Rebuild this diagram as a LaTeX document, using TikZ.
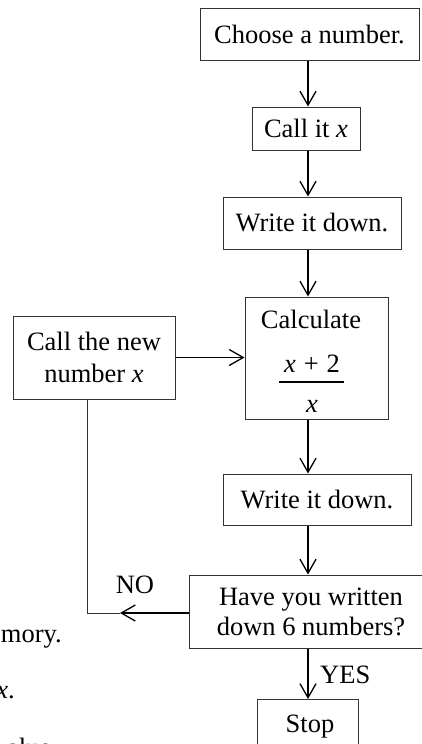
\documentclass[tikz,border=0pt]{standalone}
\usepackage{fontspec}
\setmainfont{Liberation Serif}
\usetikzlibrary{arrows.meta}
\begin{document}
\begin{tikzpicture}[x=1pt,y=-1pt,
  txt/.style={font=\fontsize{26.5}{30}\selectfont, inner sep=0pt},
  box/.style={txt, draw=black!80, line width=1pt, align=center},
  flow/.style={-{Straight Barb[length=14pt,width=16pt,line width=1.3pt]}, line width=1.2pt, black},
  thinline/.style={draw=black!80, line width=1pt}]
\useasboundingbox (0,0) rectangle (422,744);
\clip (0,0) rectangle (422,744);
% boxes
\node[box, minimum width=219pt, minimum height=52pt] (b1) at (309.5,34) {Choose a number.};
\node[box, minimum width=108pt, minimum height=43pt] (b2) at (306,128.5) {Call it \textit{x}};
\node[box, minimum width=178pt, minimum height=52pt] (b3) at (312,223) {Write it down.};
\node[box, minimum width=143pt, minimum height=122pt] (b4) at (316.5,358) {};
\node[txt, anchor=base] (calc) at (311,328) {Calculate};
\node[txt, anchor=base] (num) at (312,372) {\textit{x}\hspace{0.3em}+\hspace{0.3em}2};
\node[txt, anchor=base] (den) at (312,412) {\textit{x}};
\draw[line width=1.1pt] (279,382) -- (344,382);
\node[box, minimum width=162pt, minimum height=83pt] (b5) at (94,357.5) {Call the new\\[2pt]number \textit{x}};
\node[box, minimum width=188pt, minimum height=51pt] (b6) at (317,499.5) {Write it down.};
\node[box, minimum width=244pt, minimum height=73pt] (b7) at (311,611.5) {Have you written\\down 6 numbers?};
\node[box, anchor=north, minimum width=101pt, text height=33pt, text depth=50pt] (b8) at (307.5,699) {\hspace*{5pt}Stop};
% labels
\node[txt, anchor=base] (no) at (135,593) {NO};
\node[txt, anchor=base west] (yes) at (320,683) {YES};
% fragments of surrounding text
\node[txt, anchor=base east] (f1) at (62,642) {mory.};
\node[txt, anchor=base east] (f2) at (15,698) {\textit{x}.};
\node[txt, anchor=base east] (f3) at (58,756) {alue.};
% connectors
\coordinate (ax) at (308,0);
\draw[flow] (b1.south -| ax) -- (b2.north -| ax);
\draw[flow] (b2.south -| ax) -- (b3.north -| ax);
\draw[flow] (b3.south -| ax) -- (b4.north -| ax);
\draw[flow] (b4.south -| ax) -- (b6.north -| ax);
\draw[flow] (b6.south -| ax) -- (b7.north -| ax);
\draw[flow] (b7.south -| ax) -- (b8.north -| ax);
\draw[flow] (b5.east) -- (b5.east -| b4.west);
\coordinate (tip) at (120,613);
\coordinate (corner) at (87,613);
\draw[flow] (b7.west |- tip) -- (tip);
\draw[thinline] (tip) -- (corner) -- (b5.south -| corner);
\end{tikzpicture}
\end{document}
